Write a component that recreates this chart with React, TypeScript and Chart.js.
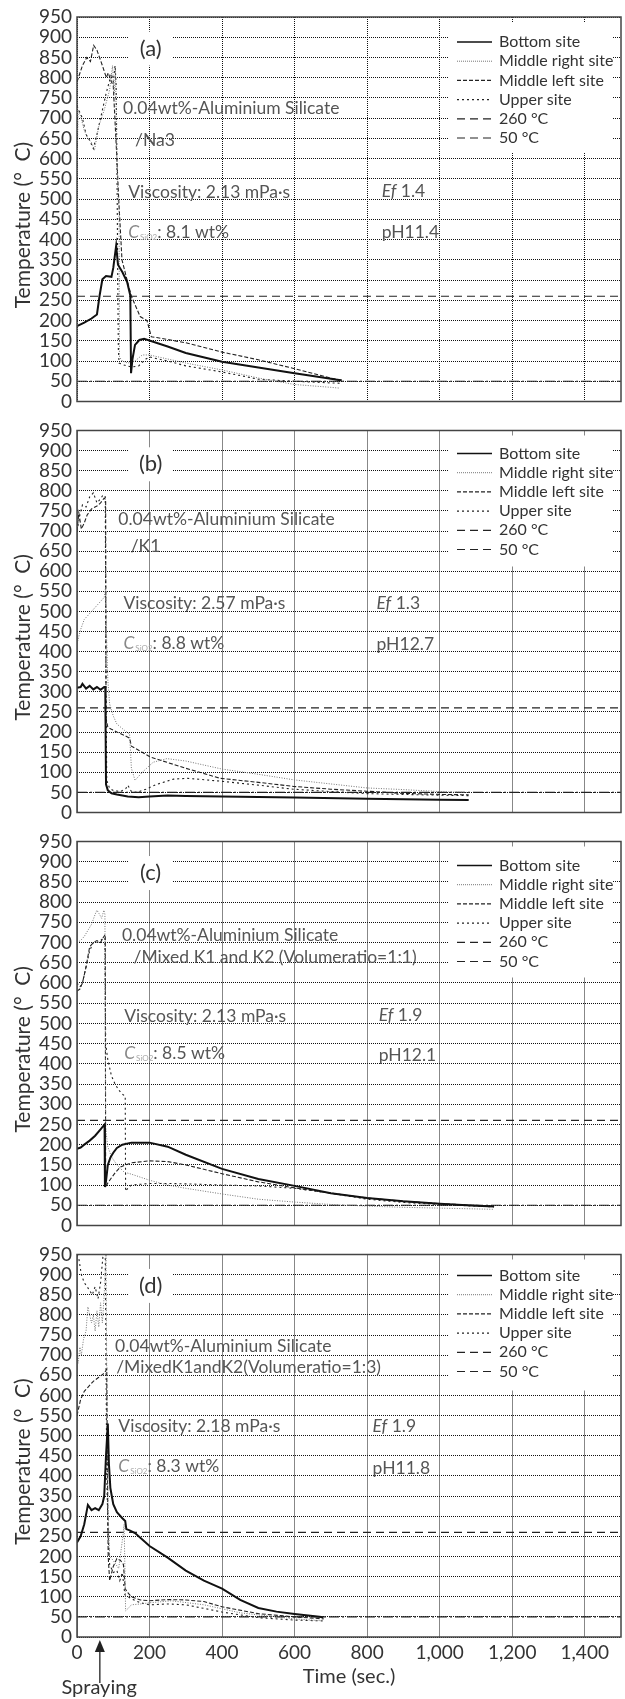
import React, { useEffect, useRef } from "react";
import { Chart, registerables } from "chart.js";

Chart.register(...registerables);

const FONT = "Lato, 'Open Sans', sans-serif";

// ---------------- axis ranges / ticks ----------------
const X_MIN = 0;
const X_MAX = 1500;
const X_STEP = 200;
const Y_MIN = 0;
const Y_MAX = 950;
const Y_STEP = 50;

// ---------------- series names ----------------
const seriesNames = ["Bottom site", "Middle right site", "Middle left site", "Upper site", "260 °C", "50 °C"];

// reference lines
const thresholdTimes = [0, 1500];
const threshold260 = [260, 260];
const threshold50 = [50, 50];

// ---------------- panel (a) ----------------
const tA_bottom = [0, 20, 40, 55, 62, 70, 80, 95, 100, 108, 113, 125, 138, 147, 149, 153, 160, 172, 185, 250, 300, 400, 500, 600, 700, 730];
const vA_bottom = [186, 195, 205, 215, 260, 302, 310, 308, 330, 385, 338, 320, 296, 262, 70, 105, 140, 152, 155, 136, 120, 98, 84, 70, 56, 52];
const tA_midRight = [0, 3, 10, 20, 30, 40, 48, 60, 75, 90, 98, 103, 106, 110, 113, 116, 117, 125, 140, 160, 180, 200, 250, 300, 400, 500, 600, 700, 725];
const vA_midRight = [560, 720, 705, 670, 650, 640, 620, 680, 720, 770, 830, 760, 820, 600, 500, 480, 110, 100, 95, 100, 115, 115, 105, 95, 78, 58, 42, 35, 33];
const tA_midLeft = [0, 15, 27, 37, 46, 55, 70, 81, 86, 95, 100, 110, 115, 124, 141, 150, 174, 193, 205, 220, 300, 400, 500, 600, 700, 735];
const vA_midLeft = [790, 830, 850, 840, 880, 868, 830, 800, 812, 790, 780, 600, 500, 350, 290, 260, 210, 200, 160, 158, 145, 122, 103, 81, 58, 52];
const tA_upper = [0, 5, 15, 25, 35, 45, 55, 65, 80, 95, 100, 105, 108, 110, 112, 114, 116, 130, 150, 170, 190, 200, 250, 300, 400, 500, 600, 700, 730];
const vA_upper = [730, 720, 700, 660, 645, 625, 660, 700, 760, 810, 790, 830, 780, 600, 350, 130, 95, 90, 85, 88, 105, 110, 100, 88, 73, 55, 50, 46, 45];

// ---------------- panel (b) ----------------
const tB_bottom = [0, 10, 15, 25, 35, 45, 55, 65, 75, 78, 80, 85, 95, 110, 140, 170, 200, 250, 300, 400, 600, 800, 1000, 1080];
const vB_bottom = [310, 312, 320, 308, 315, 306, 312, 305, 312, 312, 70, 55, 48, 45, 40, 38, 40, 42, 41, 40, 37, 34, 32, 31];
const tB_midRight = [0, 10, 20, 40, 60, 75, 79, 82, 85, 90, 100, 110, 130, 145, 150, 160, 180, 210, 248, 300, 400, 500, 600, 800, 900, 1000, 1080];
const vB_midRight = [420, 455, 480, 500, 520, 535, 560, 420, 330, 270, 240, 220, 205, 195, 110, 80, 100, 125, 134, 128, 108, 95, 81, 61, 57, 52, 50];
const tB_midLeft = [0, 5, 12, 20, 28, 40, 55, 65, 75, 79, 80, 85, 95, 110, 130, 145, 150, 170, 202, 300, 395, 500, 596, 700, 798, 890, 1000, 1080];
const vB_midLeft = [700, 745, 705, 720, 740, 755, 762, 770, 782, 778, 235, 212, 207, 200, 192, 185, 165, 155, 138, 110, 85, 75, 65, 58, 53, 48, 45, 44];
const tB_upper = [0, 8, 15, 25, 35, 45, 55, 65, 72, 78, 80, 82, 90, 100, 120, 135, 140, 150, 165, 190, 220, 266, 306, 395, 500, 596, 700, 798, 900, 1000, 1080];
const vB_upper = [700, 740, 765, 760, 785, 795, 770, 780, 790, 785, 300, 80, 60, 55, 52, 60, 68, 52, 50, 58, 70, 83, 85, 78, 68, 58, 52, 47, 45, 43, 42];

// ---------------- panel (c) ----------------
const tC_bottom = [0, 10, 20, 35, 50, 65, 76, 77, 80, 85, 92, 100, 110, 125, 150, 200, 250, 300, 400, 500, 600, 700, 800, 900, 1000, 1100, 1150];
const vC_bottom = [190, 193, 200, 210, 222, 238, 250, 95, 110, 150, 168, 180, 192, 200, 205, 205, 195, 175, 140, 115, 98, 80, 68, 60, 54, 49, 47];
const tC_midRight = [0, 10, 20, 30, 40, 50, 55, 62, 68, 74, 77, 79, 85, 95, 110, 130, 150, 200, 250, 300, 400, 500, 600, 700, 800, 900, 1000, 1100, 1150];
const vC_midRight = [700, 705, 715, 730, 745, 770, 780, 770, 760, 780, 770, 240, 195, 170, 150, 132, 127, 112, 100, 92, 78, 65, 58, 52, 48, 45, 43, 41, 40];
const tC_midLeft = [0, 8, 15, 25, 35, 45, 55, 65, 72, 78, 79, 85, 95, 105, 120, 150, 200, 250, 300, 400, 500, 600, 700, 800, 900, 1000, 1100, 1150];
const vC_midLeft = [580, 585, 600, 640, 690, 700, 705, 700, 712, 720, 95, 105, 118, 130, 145, 155, 160, 158, 150, 128, 108, 93, 80, 68, 60, 54, 50, 48];
const tC_upper = [0, 8, 15, 25, 35, 45, 55, 65, 72, 77, 79, 85, 95, 105, 115, 125, 133, 134, 140, 150, 175, 200, 250, 300, 400, 500, 600, 700, 800, 900, 1000, 1100, 1150];
const vC_upper = [600, 590, 600, 640, 680, 700, 700, 705, 710, 712, 450, 410, 370, 350, 335, 325, 320, 85, 92, 100, 102, 104, 104, 103, 100, 98, 92, 80, 65, 57, 52, 48, 46];

// ---------------- panel (d) ----------------
const tD_bottom = [0, 10, 20, 30, 40, 50, 60, 70, 75, 80, 85, 88, 92, 100, 110, 125, 133, 136, 145, 160, 200, 250, 300, 350, 400, 450, 500, 550, 600, 650, 680];
const vD_bottom = [235, 250, 280, 328, 315, 320, 315, 330, 350, 450, 530, 430, 370, 330, 310, 295, 288, 268, 265, 258, 226, 197, 165, 140, 120, 92, 72, 63, 57, 52, 49];
const tD_midRight = [0, 3, 8, 12, 18, 25, 30, 35, 40, 45, 50, 55, 60, 65, 70, 75, 80, 83, 86, 90, 100, 115, 125, 130, 134, 140, 150, 175, 200, 260, 350, 450, 600, 680];
const vD_midRight = [700, 680, 720, 700, 740, 760, 820, 800, 780, 800, 760, 810, 770, 830, 780, 850, 950, 500, 300, 200, 190, 170, 240, 280, 65, 70, 80, 82, 85, 90, 80, 60, 45, 40];
const tD_midLeft = [0, 10, 20, 30, 45, 60, 75, 82, 84, 86, 90, 100, 110, 120, 128, 133, 140, 150, 175, 200, 250, 300, 350, 400, 500, 600, 680];
const vD_midLeft = [550, 590, 610, 620, 635, 645, 655, 665, 400, 200, 140, 175, 195, 190, 180, 120, 110, 100, 92, 90, 93, 92, 88, 75, 58, 50, 45];
const tD_upper = [0, 5, 12, 20, 28, 35, 42, 50, 58, 65, 72, 78, 80, 82, 86, 90, 100, 110, 118, 125, 132, 150, 175, 200, 250, 300, 400, 500, 600, 680];
const vD_upper = [950, 940, 900, 880, 870, 860, 850, 870, 840, 880, 950, 950, 700, 400, 250, 180, 160, 165, 140, 160, 105, 95, 85, 80, 82, 80, 62, 48, 42, 40];

// ---------------- annotation texts ----------------
const panelLetters = ["(a)", "(b)", "(c)", "(d)"];
const materialLine1 = "0.04wt%-Aluminium Silicate";
const materialLine2 = ["/Na3", "/K1", "/Mixed K1 and K2 (Volumeratio=1:1)", "/MixedK1andK2(Volumeratio=1:3)"];
const viscosities = ["2.13", "2.57", "2.13", "2.18"];
const silicaContents = ["8.1", "8.8", "8.5", "8.3"];
const efValues = ["1.4", "1.3", "1.9", "1.9"];
const phValues = ["11.4", "12.7", "12.1", "11.8"];

const panelSeries = [
  [[tA_bottom, vA_bottom], [tA_midRight, vA_midRight], [tA_midLeft, vA_midLeft], [tA_upper, vA_upper]],
  [[tB_bottom, vB_bottom], [tB_midRight, vB_midRight], [tB_midLeft, vB_midLeft], [tB_upper, vB_upper]],
  [[tC_bottom, vC_bottom], [tC_midRight, vC_midRight], [tC_midLeft, vC_midLeft], [tC_upper, vC_upper]],
  [[tD_bottom, vD_bottom], [tD_midRight, vD_midRight], [tD_midLeft, vD_midLeft], [tD_upper, vD_upper]],
];

// ---------------- styles / layout ----------------
const seriesStyles = [
  { color: "#111", width: 2, dash: [] as number[], legendDash: [] as number[] },
  { color: "#777", width: 1, dash: [1, 1.5], legendDash: [1, 1] },
  { color: "#222", width: 1.1, dash: [4, 2], legendDash: [4, 2] },
  { color: "#222", width: 1.1, dash: [2, 3], legendDash: [2, 3] },
  { color: "#222", width: 1.2, dash: [8, 5], legendDash: [8, 5] },
  { color: "#222", width: 1.1, dash: [10, 3, 2, 3], legendDash: [8, 5] },
];

type Pos = [number, number];
interface PanelLayout {
  canvasTop: number;
  canvasH: number;
  plotTop: number;
  plotBottom: number;
  letter: Pos;
  line1: Pos;
  line2: Pos;
  visc: Pos;
  csio2: Pos;
  ef: Pos;
  ph: Pos;
  legendOffset: number;
}

const layouts: PanelLayout[] = [
  { canvasTop: 0, canvasH: 416, plotTop: 17, plotBottom: 405, letter: [203, 872], line1: [127, 710], line2: [160, 632], visc: [141, 503], csio2: [141, 404], ef: [840, 505], ph: [840, 404], legendOffset: 25 },
  { canvasTop: 416, canvasH: 411, plotTop: 426, plotBottom: 815, letter: [203, 866], line1: [114, 716], line2: [148, 647], visc: [128, 505], csio2: [128, 407], ef: [826, 505], ph: [826, 405], legendOffset: 23 },
  { canvasTop: 827, canvasH: 413, plotTop: 837, plotBottom: 1227, letter: [203, 872], line1: [124, 703], line2: [156, 650], visc: [130, 504], csio2: [130, 411], ef: [832, 505], ph: [832, 408], legendOffset: 24 },
  { canvasTop: 1240, canvasH: 459, plotTop: 1250, plotBottom: 1637, letter: [203, 872], line1: [105, 709], line2: [108, 655], visc: [114, 508], csio2: [114, 410], ef: [815, 508], ph: [815, 406], legendOffset: 21 },
];

const SPRAY_TIME = 63;

const TEXT_GRAY = "#555";

const decorPlugin = {
  id: "decor",
  beforeDatasetsDraw(chart: any, _args: any, opts: any) {
    const idx: number = opts.index;
    const L = layouts[idx];
    const { ctx, chartArea: a, scales } = chart;
    const x = scales.x;
    const y = scales.y;
    ctx.save();
    ctx.fillStyle = "#fff";
    const lx = x.getPixelForValue(L.letter[0]);
    const ly = y.getPixelForValue(L.letter[1]);
    ctx.fillRect(lx - 22, ly - 17, 44, 34);
    ctx.fillRect(a.right - 172, a.top + 5, 164, 131);
    ctx.restore();
  },
  afterDatasetsDraw(chart: any, _args: any, opts: any) {
    const idx: number = opts.index;
    const L = layouts[idx];
    const { ctx, chartArea: a, scales } = chart;
    const x = scales.x;
    const y = scales.y;
    const px = (p: Pos) => [x.getPixelForValue(p[0]), y.getPixelForValue(p[1])];
    ctx.save();

    // frame
    ctx.strokeStyle = "#444";
    ctx.lineWidth = 1.5;
    ctx.setLineDash([]);
    ctx.strokeRect(a.left, a.top, a.right - a.left, a.bottom - a.top);

    // panel letter
    ctx.fillStyle = "#333";
    ctx.font = `22px ${FONT}`;
    ctx.textAlign = "center";
    ctx.textBaseline = "middle";
    const [lx, ly] = px(L.letter);
    ctx.fillText(panelLetters[idx], lx, ly);

    // annotation texts
    ctx.textAlign = "left";
    ctx.textBaseline = "alphabetic";
    ctx.fillStyle = TEXT_GRAY;
    ctx.font = `17.5px ${FONT}`;
    let [tx, ty] = px(L.line1);
    ctx.fillText(materialLine1, tx, ty);
    [tx, ty] = px(L.line2);
    ctx.fillText(materialLine2[idx], tx, ty);
    [tx, ty] = px(L.visc);
    ctx.fillText(`Viscosity: ${viscosities[idx]} mPa·s`, tx, ty);

    [tx, ty] = px(L.csio2);
    ctx.font = `italic 17.5px ${FONT}`;
    ctx.fillStyle = "#888";
    ctx.fillText("C", tx, ty);
    let w = ctx.measureText("C").width;
    ctx.font = `8px ${FONT}`;
    ctx.fillStyle = "#aaa";
    ctx.fillText("SiO2", tx + w + 1, ty + 2);
    w += ctx.measureText("SiO2").width + 1;
    ctx.font = `17.5px ${FONT}`;
    ctx.fillStyle = TEXT_GRAY;
    ctx.fillText(`: ${silicaContents[idx]} wt%`, tx + w, ty);

    [tx, ty] = px(L.ef);
    ctx.font = `italic 17.5px ${FONT}`;
    ctx.fillText("Ef", tx, ty);
    const ew = ctx.measureText("Ef").width;
    ctx.font = `17.5px ${FONT}`;
    ctx.fillText(` ${efValues[idx]}`, tx + ew, ty);

    [tx, ty] = px(L.ph);
    ctx.fillText(`pH${phValues[idx]}`, tx, ty);

    // legend
    ctx.font = `16px ${FONT}`;
    ctx.fillStyle = "#333";
    ctx.textBaseline = "middle";
    chart.data.datasets.forEach((ds: any, i: number) => {
      const st = seriesStyles[i];
      const rowY = a.top + L.legendOffset + i * 19.2;
      ctx.beginPath();
      ctx.strokeStyle = st.color;
      ctx.lineWidth = Math.min(st.width, 1.6);
      ctx.setLineDash(st.legendDash);
      ctx.moveTo(a.right - 164, rowY);
      ctx.lineTo(a.right - 129, rowY);
      ctx.stroke();
      ctx.setLineDash([]);
      ctx.fillText(ds.label, a.right - 122, rowY);
    });

    ctx.restore();
  },
  afterDraw(chart: any, _args: any, opts: any) {
    if (!opts.spraying) return;
    const { ctx, chartArea: a, scales } = chart;
    const sx = scales.x.getPixelForValue(SPRAY_TIME);
    ctx.save();
    ctx.strokeStyle = "#222";
    ctx.fillStyle = "#222";
    ctx.lineWidth = 1.3;
    ctx.beginPath();
    ctx.moveTo(sx, a.bottom + 12);
    ctx.lineTo(sx, a.bottom + 46);
    ctx.stroke();
    ctx.beginPath();
    ctx.moveTo(sx, a.bottom + 3);
    ctx.lineTo(sx - 5, a.bottom + 15);
    ctx.lineTo(sx + 5, a.bottom + 15);
    ctx.closePath();
    ctx.fill();
    ctx.font = `20px ${FONT}`;
    ctx.fillStyle = "#333";
    ctx.textAlign = "center";
    ctx.textBaseline = "alphabetic";
    ctx.fillText("Spraying", scales.x.getPixelForValue(SPRAY_TIME - 2), a.bottom + 57);
    ctx.restore();
  },
};

function toPoints(times: number[], values: number[]) {
  return times.map((t, i) => ({ x: t, y: values[i] }));
}

function Panel({ index }: { index: number }) {
  const ref = useRef<HTMLCanvasElement>(null);
  const L = layouts[index];
  useEffect(() => {
    const canvas = ref.current;
    if (!canvas) return;
    const isLast = index === layouts.length - 1;
    const seriesData = [
      ...panelSeries[index].map(([t, v]) => toPoints(t, v)),
      toPoints(thresholdTimes, threshold260),
      toPoints(thresholdTimes, threshold50),
    ];
    const datasets = seriesData.map((data, i) => ({
      label: seriesNames[i],
      data,
      borderColor: seriesStyles[i].color,
      borderWidth: seriesStyles[i].width,
      borderDash: seriesStyles[i].dash,
      pointRadius: 0,
      tension: 0,
      fill: false,
    }));
    const xAxisH = L.canvasH - (L.plotBottom - L.canvasTop);
    const chart = new Chart(canvas, {
      type: "line",
      data: { datasets },
      options: {
        animation: false,
        responsive: false,
        events: [],
        locale: "en-US",
        layout: { padding: { top: L.plotTop - L.canvasTop, right: 4, left: 0, bottom: 0 } },
        plugins: {
          legend: { display: false },
          tooltip: { enabled: false },
          decor: { index, spraying: isLast },
        } as any,
        scales: {
          x: {
            type: "linear",
            min: X_MIN,
            max: X_MAX,
            grid: { display: true, drawOnChartArea: true, color: "#111", lineWidth: 1, drawTicks: false },
            border: { display: false, dash: [1, 1] },
            ticks: {
              display: isLast,
              autoSkip: false,
              stepSize: X_STEP,
              includeBounds: false,
              padding: 6,
              color: "#333",
              font: { family: FONT, size: 19, lineHeight: 1 },
            },
            title: {
              display: isLast,
              text: "Time (sec.)",
              color: "#333",
              font: { family: FONT, size: 20 },
              padding: { top: 0, bottom: 10 },
            },
            afterFit: (s: any) => {
              s.height = xAxisH;
            },
          },
          y: {
            type: "linear",
            min: Y_MIN,
            max: Y_MAX,
            grid: { display: true, drawOnChartArea: true, color: "#111", lineWidth: 1, drawTicks: false },
            border: { display: false, dash: [1, 1] },
            ticks: {
              autoSkip: false,
              stepSize: Y_STEP,
              padding: 5,
              color: "#333",
              font: { family: FONT, size: 19, lineHeight: 1 },
            },
            title: {
              display: true,
              text: "Temperature (°  C)\u2003\u2003",
              color: "#333",
              font: { family: FONT, size: 21 },
              padding: { top: 11, bottom: 0 },
            },
            afterFit: (s: any) => {
              s.width = 77;
            },
          },
        },
      } as any,
      plugins: [decorPlugin as any],
    });
    return () => chart.destroy();
  }, [index]);
  return (
    <canvas
      ref={ref}
      width={625}
      height={L.canvasH}
      style={{ position: "absolute", left: 0, top: L.canvasTop, width: 625, height: L.canvasH, display: "block" }}
    />
  );
}

export default function App() {
  return (
    <div style={{ position: "absolute", left: 0, top: 0, width: 625, height: 1699, background: "#fff", overflow: "hidden" }}>
      {layouts.map((_, i) => (
        <Panel key={i} index={i} />
      ))}
    </div>
  );
}
